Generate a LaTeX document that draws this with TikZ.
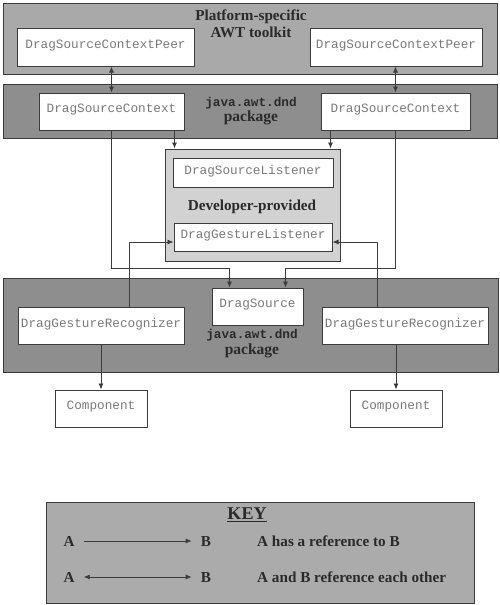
\documentclass[tikz,border=0pt]{standalone}
\usepackage{fontspec}
\setmainfont{Liberation Serif}
\newfontfamily\monofam{Liberation Mono}
\usetikzlibrary{arrows.meta}
\definecolor{bgA}{HTML}{A9A9A9}
\definecolor{bgB}{HTML}{8E8E8E}
\definecolor{bgDev}{HTML}{D2D2D2}
\definecolor{bgKey}{HTML}{ABABAB}
\definecolor{edge}{HTML}{3C3C3C}
\definecolor{clstext}{HTML}{7A7A7A}
\definecolor{ttext}{HTML}{2A2A2A}
\tikzset{
  grp/.style={draw=edge, line width=1pt, inner sep=0pt},
  cls/.style={draw=edge, fill=white, line width=1pt, inner sep=0pt, text depth=6pt,
    font=\monofam\fontsize{12.7}{14}\selectfont, text=clstext},
  ttl/.style={font=\bfseries\fontsize{15.2}{17}\selectfont, text=ttext, align=center, inner sep=0pt},
  pkg/.style={align=center, inner sep=0pt, text=ttext},
  conn/.style={draw=edge, line width=0.8pt},
  arr/.style={conn, -{Latex[length=6pt,width=5pt]}},
  darr/.style={conn, {Latex[length=6pt,width=5pt]}-{Latex[length=6pt,width=5pt]}},
  keytxt/.style={font=\bfseries\fontsize{15.2}{17}\selectfont, text=ttext, inner sep=0pt},
  keyletter/.style={keytxt, inner xsep=9pt, text height=10pt, text depth=0pt},
}
\newcommand{\pkgtext}{{\monofam\bfseries\fontsize{12.7}{15}\selectfont java.awt.dnd}\\[1pt]{\bfseries\fontsize{15.5}{17}\selectfont package}}
\begin{document}
\begin{tikzpicture}[x=1pt,y=-1pt]
\useasboundingbox (0,0) rectangle (500,605);
% groups
\node[grp, fill=bgA, minimum width=494pt, minimum height=71pt] (gtop) at (250,38.5) {};
\node[grp, fill=bgB, minimum width=494pt, minimum height=54pt] (gdnd) at (250,111) {};
\node[grp, fill=bgDev, minimum width=175pt, minimum height=112pt] (gdev) at (252.5,205) {};
\node[grp, fill=bgB, minimum width=495pt, minimum height=94pt] (gdnd2) at (250.5,325) {};
\node[grp, fill=bgKey, minimum width=428pt, minimum height=101pt] (gkey) at (260,552.5) {};
% titles
\node[ttl] (tplat) at (251,24) {Platform-specific\\AWT toolkit};
\node[pkg] (tpkg1) at (251,111) {\pkgtext};
\node[ttl] (tdev) at (252,207) {Developer-provided};
\node[pkg] (tpkg2) at (252,343.5) {\pkgtext};
% classes
\node[cls, minimum width=177pt, minimum height=38pt] (peerL) at (105.5,47) {DragSourceContextPeer};
\node[cls, minimum width=172pt, minimum height=38pt] (peerR) at (396,47) {DragSourceContextPeer};
\node[cls, minimum width=145pt, minimum height=37pt] (dscL) at (111.5,111.5) {DragSourceContext};
\node[cls, minimum width=149pt, minimum height=37pt] (dscR) at (395.5,111.5) {DragSourceContext};
\node[cls, minimum width=160pt, minimum height=29pt] (dsl) at (253,172.5) {DragSourceListener};
\node[cls, minimum width=158pt, minimum height=28pt] (dgl) at (253,237) {DragGestureListener};
\node[cls, minimum width=91pt, minimum height=37pt] (ds) at (257.5,306.5) {DragSource};
\node[cls, minimum width=166pt, minimum height=37pt] (dgrL) at (101,325.5) {DragGestureRecognizer};
\node[cls, minimum width=166pt, minimum height=37pt] (dgrR) at (405,325.5) {DragGestureRecognizer};
\node[cls, minimum width=92pt, minimum height=37pt] (compL) at (101,408.5) {Component};
\node[cls, minimum width=92pt, minimum height=37pt] (compR) at (396,408.5) {Component};
% connectors
\draw[darr] (dscL.north) -- (dscL.north |- peerL.south);
\draw[darr] (dscR.north) -- (dscR.north |- peerR.south);
\draw[arr] ([xshift=-10pt]dscL.south east) -- ([xshift=-10pt]dscL.south east |- gdev.north);
\draw[arr] ([xshift=10pt]dscR.south west) -- ([xshift=10pt]dscR.south west |- gdev.north);
\draw[arr] (dscL.south) |- ([xshift=18pt,yshift=19pt]ds.north west) -- ([xshift=18pt]ds.north west);
\draw[arr] (dscR.south) |- ([xshift=-18pt,yshift=19pt]ds.north east) -- ([xshift=-18pt]ds.north east);
\draw[arr] ([xshift=28pt]dgrL.north) |- ([yshift=-5pt]dgl.west);
\draw[arr] ([xshift=-28pt]dgrR.north) |- ([yshift=-5pt]dgl.east);
\draw[arr] (dgrL.south) -- (compL.north);
\draw[arr] (compR.north |- dgrR.south) -- (compR.north);
% key
\node[keytxt, font=\bfseries\fontsize{18}{20}\selectfont] (kkey) at (247,515) {\underline{KEY}};
\node[keyletter] (ka1) at (69,541) {A};
\node[keyletter] (kb1) at (206,541) {B};
\node[keytxt, anchor=west] (kt1) at (257,541) {A has a reference to B};
\node[keyletter] (ka2) at (69,577) {A};
\node[keyletter] (kb2) at (206,577) {B};
\node[keytxt, anchor=west] (kt2) at (257,577) {A and B reference each other};
\draw[arr] (ka1) -- (kb1);
\draw[darr] (ka2) -- (kb2);
\end{tikzpicture}
\end{document}
